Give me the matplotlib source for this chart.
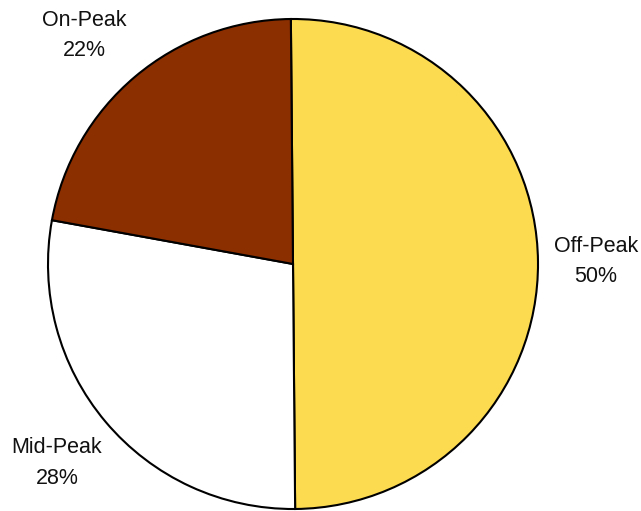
import numpy as np
import matplotlib
matplotlib.use("Agg")
import matplotlib.pyplot as plt

plt.rcParams['font.family'] = ['Liberation Sans', 'DejaVu Sans']

# data
labels = ["Off-Peak", "Mid-Peak", "On-Peak"]
values = [50, 28, 22]
colors = ["#FDDB50", "#FFFFFF", "#8B2E00"]

fig = plt.figure(figsize=(6.41, 5.11), dpi=100)
ax = fig.add_axes([0, 0, 1, 1])

cx, cy, r = 293, 247, 245
wedges, texts = ax.pie(values, labels=[f"{l}\n{v}%" for l, v in zip(labels, values)],
                       colors=colors, startangle=90.5, counterclock=False,
                       center=(cx, cy), radius=r,
                       wedgeprops=dict(edgecolor='black', linewidth=1.5),
                       textprops=dict(fontsize=15.5, color='#111111', ha='center', va='center',
                                      linespacing=1.6),
                       frame=True)
ax.set_xlim(0, 641)
ax.set_ylim(0, 511)
ax.set_aspect('equal')
ax.axis('off')

# label placement around the pie (distance in radii, small angle nudge in degrees)
dist = [1.237, 1.26, 1.262]
nudge = [0.0, 0.0, 2.3]
for w, t, d, n in zip(wedges, texts, dist, nudge):
    ang = np.deg2rad((w.theta1 + w.theta2) / 2 + n)
    t.set_position((cx + r * d * np.cos(ang), cy + r * d * np.sin(ang)))
    t.set_horizontalalignment('center')

fig.savefig("out.png", dpi=100)
